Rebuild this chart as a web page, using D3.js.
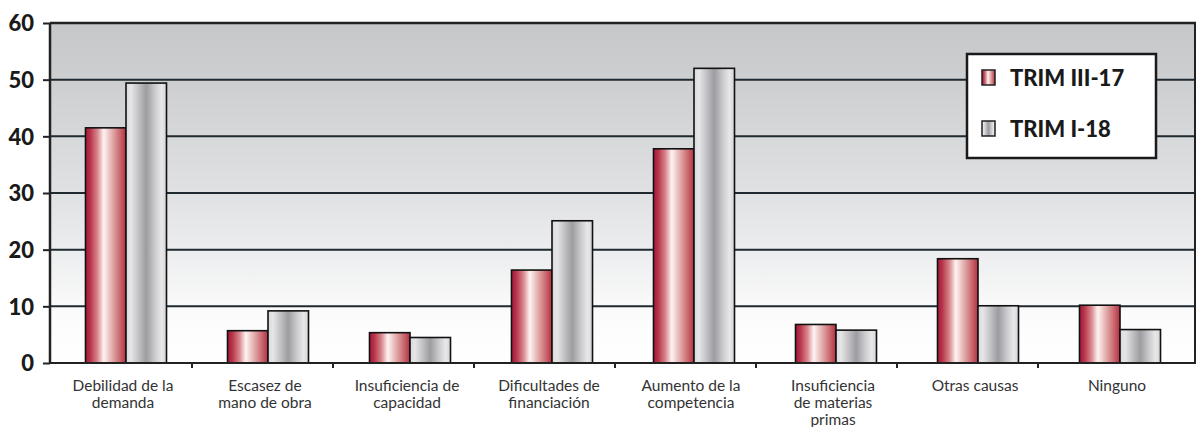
<!DOCTYPE html>
<html><head><meta charset="utf-8">
<script src="https://cdn.jsdelivr.net/npm/d3@7"></script>
<style>body{margin:0;background:#fff}svg{display:block}</style>
</head><body>
<svg id="c" width="1202" height="427"></svg>
<script>
const categories = [
  ["Debilidad de la","demanda"],
  ["Escasez de","mano de obra"],
  ["Insuficiencia de","capacidad"],
  ["Dificultades de","financiación"],
  ["Aumento de la","competencia"],
  ["Insuficiencia","de materias","primas"],
  ["Otras causas"],
  ["Ninguno"]
];
const seriesNames = ["TRIM III-17", "TRIM I-18"];
const trimIII17 = [41.5, 5.7, 5.35, 16.4, 37.8, 6.8, 18.4, 10.2];
const trimI18   = [49.4, 9.2, 4.5, 25.1, 52.0, 5.8, 10.1, 5.9];
const yTicks = [0, 10, 20, 30, 40, 50, 60];

const svg = d3.select("#c");
const defs = svg.append("defs");

const pLeft = 50, pRight = 1195, pTop = 23, pBottom = 363;
const idx = d3.range(categories.length);
const y = d3.scaleLinear().domain([0, 60]).range([pBottom, pTop]);
const xBars = d3.scaleBand().domain(idx).range([55, 1191]).paddingInner(0).paddingOuter(0);
const xTicks = d3.scaleBand().domain(idx).range([51, 1179]);
const bw = 40.5;

// gradients
const bg = defs.append("linearGradient").attr("id","bg").attr("x1",0).attr("y1",0).attr("x2",0).attr("y2",1);
[[0,"#c6c7c9"],[0.2,"#cfd0d2"],[0.5,"#e0e1e3"],[0.7,"#eeeff0"],[0.85,"#fbfbfb"],[1,"#ffffff"]]
  .forEach(s=>bg.append("stop").attr("offset",s[0]).attr("stop-color",s[1]));
const gr = defs.append("linearGradient").attr("id","gred").attr("x1",0).attr("y1",0).attr("x2",1).attr("y2",0);
[[0,"#a3173a"],[0.12,"#b8354a"],[0.3,"#d98a8f"],[0.45,"#fdf3f2"],[0.52,"#f6dcda"],[0.7,"#dc9e9e"],[0.88,"#c65c66"],[1,"#b3303f"]]
  .forEach(s=>gr.append("stop").attr("offset",s[0]).attr("stop-color",s[1]));
const gg = defs.append("linearGradient").attr("id","ggray").attr("x1",0).attr("y1",0).attr("x2",1).attr("y2",0);
[[0,"#d9d9db"],[0.12,"#e6e6e8"],[0.3,"#c4c4c7"],[0.5,"#9c9ca1"],[0.7,"#c8c8cb"],[0.88,"#e8e8ea"],[1,"#d4d4d6"]]
  .forEach(s=>gg.append("stop").attr("offset",s[0]).attr("stop-color",s[1]));

// plot background
svg.append("rect").attr("x",pLeft).attr("y",pTop).attr("width",pRight-pLeft).attr("height",pBottom-pTop).attr("fill","url(#bg)");

// gridlines
svg.append("g").selectAll("line").data(yTicks.filter(d=>d>0)).join("line")
  .attr("x1",pLeft).attr("x2",pRight).attr("y1",d=>y(d)).attr("y2",d=>y(d))
  .attr("stroke","#1f2a30").attr("stroke-width",2);

// bars
const colors = ["url(#gred)","url(#ggray)"];
const data = [trimIII17, trimI18];
data.forEach((vals,si)=>{
  svg.append("g").selectAll("rect").data(vals).join("rect")
    .attr("x",(d,i)=>xBars(i)+xBars.bandwidth()/2 - bw + si*bw)
    .attr("y",d=>y(d))
    .attr("width",bw)
    .attr("height",d=>y(0)-y(d))
    .attr("fill",colors[si])
    .attr("stroke","#111").attr("stroke-width",1.6);
});

// axes frame
svg.append("line").attr("x1",pLeft).attr("x2",pRight).attr("y1",pBottom).attr("y2",pBottom).attr("stroke","#222").attr("stroke-width",2);
svg.append("line").attr("x1",pLeft).attr("x2",pLeft).attr("y1",pTop).attr("y2",pBottom).attr("stroke","#222").attr("stroke-width",2.5);
svg.append("line").attr("x1",pRight).attr("x2",pRight).attr("y1",pTop-1).attr("y2",pBottom+1).attr("stroke","#222").attr("stroke-width",2);
svg.append("line").attr("x1",pLeft).attr("x2",pRight+1).attr("y1",pTop).attr("y2",pTop).attr("stroke","#222").attr("stroke-width",2.5);

// y axis
const yAxis = d3.axisLeft(y).tickValues(yTicks).tickSize(7).tickPadding(9);
const ya = svg.append("g").attr("transform",`translate(${pLeft},0)`).call(yAxis);
ya.select(".domain").remove();
ya.selectAll(".tick line").attr("stroke","#222").attr("stroke-width",2);
ya.selectAll(".tick text").attr("fill","#1a1a1a").style("font-family","Lato, 'DejaVu Sans', sans-serif")
  .style("font-weight","900").style("font-size","22px").attr("dy","0.36em");

// x ticks
svg.append("g").selectAll("line").data(idx.slice(1)).join("line")
  .attr("x1",d=>xTicks(d)).attr("x2",d=>xTicks(d)).attr("y1",pBottom).attr("y2",pBottom+5)
  .attr("stroke","#222").attr("stroke-width",2);

// x labels
const lab = svg.append("g").selectAll("text").data(categories).join("text")
  .attr("x",(d,i)=>xBars(i)+xBars.bandwidth()/2 - 3)
  .attr("y",391)
  .attr("text-anchor","middle")
  .attr("fill","#333")
  .style("font-family","Lato, 'DejaVu Sans', sans-serif")
  .style("font-size","15.5px");
lab.each(function(lines){
  const t = d3.select(this);
  t.selectAll("tspan").data(lines).join("tspan")
    .attr("x",t.attr("x"))
    .attr("dy",(d,j)=>j===0?0:17)
    .text(d=>d);
});

// legend
const lg = svg.append("g");
lg.append("rect").attr("x",967).attr("y",54).attr("width",189).attr("height",104)
  .attr("fill","#fff").attr("stroke","#1a1a1a").attr("stroke-width",2.5);
seriesNames.forEach((n,i)=>{
  const yy = 70 + i*51;
  lg.append("rect").attr("x",982).attr("y",yy).attr("width",13).attr("height",15)
    .attr("fill",colors[i]).attr("stroke","#222").attr("stroke-width",1.5);
  lg.append("text").attr("x",1010).attr("y",yy+16).text(n)
    .attr("fill","#1a1a1a").style("font-family","Lato, 'DejaVu Sans', sans-serif")
    .style("font-weight","900").style("font-size","22px");
});
</script>
</body></html>
